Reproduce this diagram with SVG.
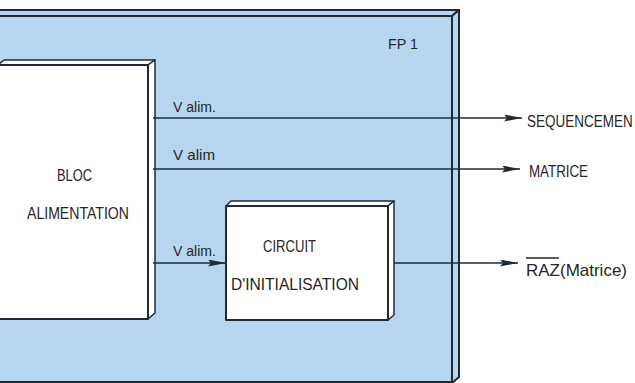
<svg xmlns="http://www.w3.org/2000/svg" width="635" height="383" viewBox="0 0 635 383">
  <defs>
    <style>
      .panel { fill: #b6d6f0; stroke: #1f2a35; stroke-width: 2; stroke-linejoin: round; }
      .box { fill: #ffffff; stroke: #1f2a35; stroke-width: 2; stroke-linejoin: round; }
      .side { fill: #ffffff; stroke: #1f2a35; stroke-width: 1.5; stroke-linejoin: round; }
      .lbl { font-family: "Liberation Sans", "DejaVu Sans", sans-serif; fill: #262626; }
      .big { font-size: 17px; }
      .small { font-size: 15px; }
      .wire { fill: none; stroke: #1f2a35; stroke-width: 1.6; }
    </style>
    <marker id="arr" markerUnits="userSpaceOnUse" markerWidth="19" markerHeight="8" refX="18" refY="3.5" orient="auto">
      <path d="M0,0 L18,3.5 L0,7 L3,3.5 z" fill="#1f2a35"/>
    </marker>
  </defs>
  <rect x="0" y="0" width="635" height="383" fill="#ffffff"/>

  <g id="FP1">
    <polygon class="panel" points="-4,10 459,10 452,16 -10,16"/>
    <polygon class="panel" points="452,16 459,10 459,377 452,383"/>
    <rect class="panel" x="-10" y="16" width="462" height="366"/>
    <text class="lbl small" x="388" y="49" textLength="30" lengthAdjust="spacingAndGlyphs">FP 1</text>
  </g>

  <g id="bloc-alimentation">
    <polygon class="side" points="-2,65 4,60 155,60 148,65"/>
    <polygon class="side" points="148,65 155,60 155,313 148,319"/>
    <rect class="box" x="-2" y="65" width="150" height="254"/>
    <text class="lbl big" x="57" y="181" textLength="35" lengthAdjust="spacingAndGlyphs">BLOC</text>
    <text class="lbl big" x="27" y="219" textLength="102" lengthAdjust="spacingAndGlyphs">ALIMENTATION</text>
  </g>

  <g id="circuit-initialisation">
    <polygon class="side" points="226,206 231,201 394,201 388,206"/>
    <polygon class="side" points="388,206 394,201 394,315 388,320"/>
    <rect class="box" x="226" y="206" width="162" height="114"/>
    <text class="lbl big" x="263" y="252" textLength="53" lengthAdjust="spacingAndGlyphs">CIRCUIT</text>
    <text class="lbl big" x="231" y="290" textLength="128" lengthAdjust="spacingAndGlyphs">D'INITIALISATION</text>
  </g>

  <g id="connectors">
    <path class="wire" d="M153,118 H522" marker-end="url(#arr)"/>
    <path class="wire" d="M153,169 H520" marker-end="url(#arr)"/>
    <path class="wire" d="M153,263 H226" marker-end="url(#arr)"/>
    <path class="wire" d="M394,263 H518" marker-end="url(#arr)"/>
    <text class="lbl small" x="173" y="112" textLength="43" lengthAdjust="spacingAndGlyphs">V alim.</text>
    <text class="lbl small" x="173" y="160" textLength="42" lengthAdjust="spacingAndGlyphs">V alim</text>
    <text class="lbl small" x="173" y="256" textLength="43" lengthAdjust="spacingAndGlyphs">V alim.</text>
  </g>

  <g id="outputs">
    <text class="lbl" font-size="13.5" transform="translate(527,127) scale(1,1.26)" x="0" y="0">SEQUENCEMEN</text>
    <text class="lbl big" x="529" y="177" textLength="59" lengthAdjust="spacingAndGlyphs">MATRICE</text>
    <text class="lbl big" x="526" y="276" textLength="101" lengthAdjust="spacingAndGlyphs">RAZ(Matrice)</text>
    <line x1="526" y1="258" x2="559" y2="258" stroke="#262626" stroke-width="1.3"/>
  </g>
</svg>
